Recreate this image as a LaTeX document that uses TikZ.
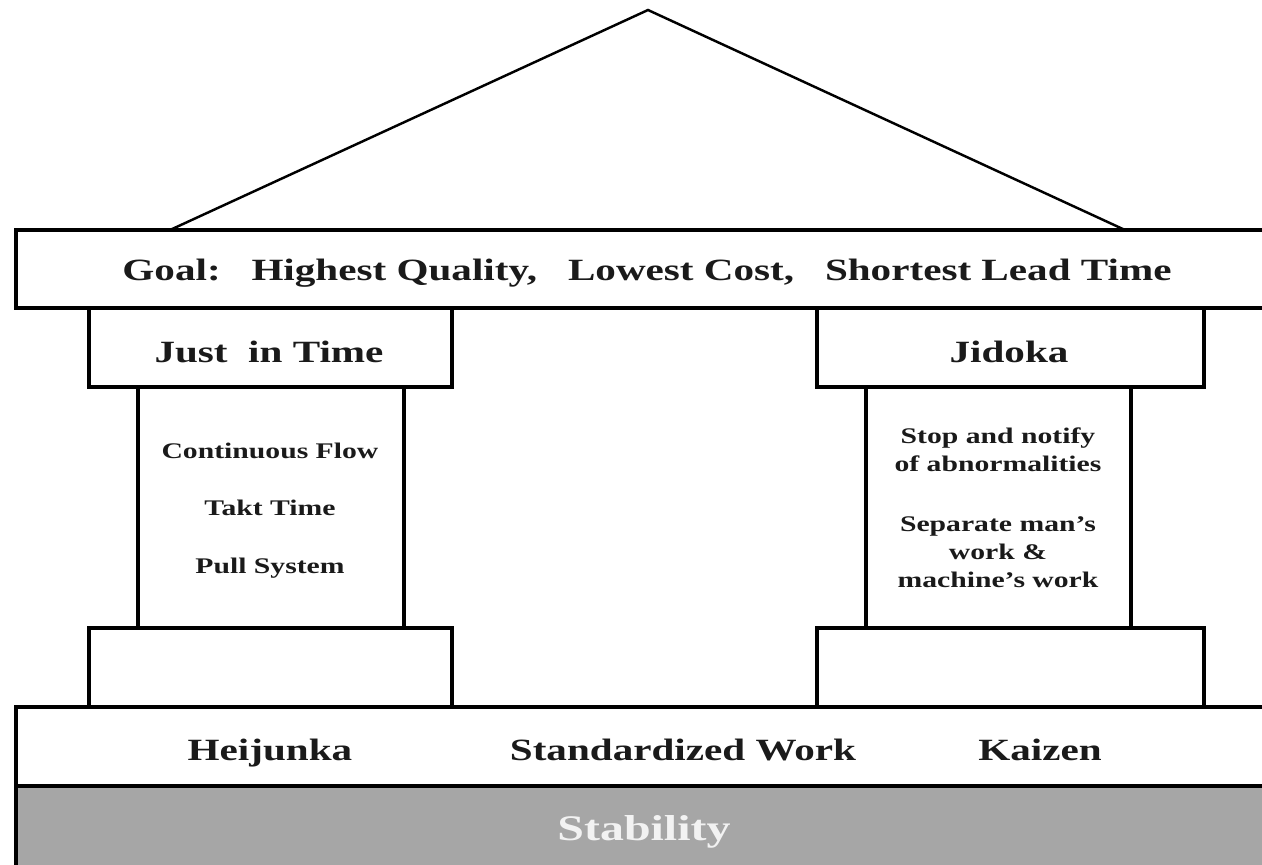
\documentclass[tikz,border=0pt]{standalone}
\usepackage{fontspec}
\setmainfont{Liberation Serif}[FakeStretch=1.33]
\usepackage{xcolor}
\definecolor{ink}{HTML}{1A1A1A}
\definecolor{stabgray}{HTML}{A6A6A6}
\definecolor{stabtext}{HTML}{F2F2F2}
\usetikzlibrary{positioning}

\tikzset{
  slab/.style={draw=black, line width=2pt, fill=white},
  bigtxt/.style={anchor=base, inner sep=0pt, text=ink, font=\bfseries\fontsize{17.6}{21}\selectfont},
  smalltxt/.style={anchor=base, inner sep=0pt, text=ink, font=\bfseries\fontsize{12.7}{15}\selectfont}
}

\begin{document}
\begin{tikzpicture}[x=0.02cm,y=-0.02cm]
\useasboundingbox (0,0) rectangle (1262,865);
\clip (0,0) rectangle (1262,865);

% roof
\draw[line width=1.4pt, line join=miter] (170,230) -- (648,10) -- (1125,230);

% top beam
\draw[slab] (16,230) rectangle (1300,308);
\node[bigtxt] (goal) at (647,280) {Goal:\ \ \ Highest Quality,\ \ \ Lowest Cost,\ \ \ Shortest Lead Time};

% left pillar
\draw[slab] (89,308) rectangle (452,387);
\draw[slab] (138,387) rectangle (404,628);
\draw[slab] (89,628) rectangle (452,707);
\node[bigtxt] (jit) at (269,362) {Just\ \ in Time};
\node[smalltxt] (flow) at (270,458) {Continuous Flow};
\node[smalltxt] (takt) at (270,515) {Takt Time};
\node[smalltxt] (pull) at (270,573) {Pull System};

% right pillar
\draw[slab] (817,308) rectangle (1204,387);
\draw[slab] (866,387) rectangle (1131,628);
\draw[slab] (817,628) rectangle (1204,707);
\node[bigtxt] (jidoka) at (1009,362) {Jidoka};
\node[smalltxt] (stop) at (998,443) {Stop and notify};
\node[smalltxt] (abnorm) at (998,471) {of abnormalities};
\node[smalltxt] (sepa) at (998,531) {Separate man’s};
\node[smalltxt] (workand) at (998,559) {work \&};
\node[smalltxt] (machine) at (998,587) {machine’s work};

% foundation
\draw[slab] (16,707) rectangle (1300,786);
\node[bigtxt] (heij) at (270,760) {Heijunka};
\node[bigtxt] (std) at (683,760) {Standardized Work};
\node[bigtxt] (kaizen) at (1040,760) {Kaizen};

\filldraw[fill=stabgray, draw=black, line width=2pt] (16,786) rectangle (1300,880);
\node[bigtxt, text=stabtext, font=\bfseries\fontsize{20.5}{24}\selectfont] (stab) at (644,840) {Stability};
\end{tikzpicture}
\end{document}
